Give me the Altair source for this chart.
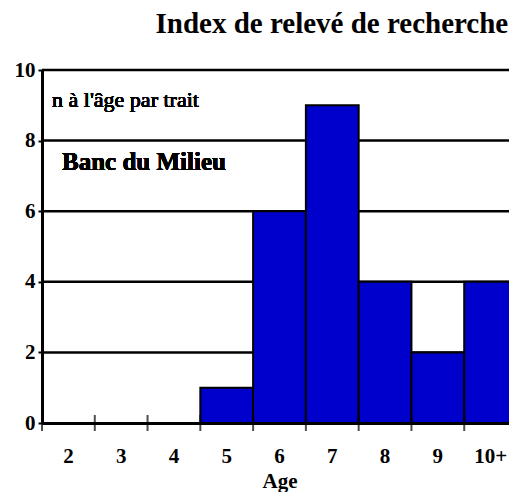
import altair as alt
import pandas as pd

ages = ["2", "3", "4", "5", "6", "7", "8", "9", "10+"]
counts = [0, 0, 0, 1, 6, 9, 4, 2, 4]
grid_values = [2, 4, 6, 8, 10]
y_ticks = list(range(0, 11))
title_text = "Index de relevé de recherche"
note_text = "n à l'âge par trait"
note_y = 9.15
area_text = "Banc du Milieu"
area_y = 7.4

FONT = "Liberation Serif"

df = pd.DataFrame({"age": ages, "n": counts})
grid_df = pd.DataFrame({"v": grid_values})

x_enc = alt.X(
    "age:N", sort=ages, title="Age",
    scale=alt.Scale(paddingInner=0, paddingOuter=0),
    axis=alt.Axis(
        labelAngle=0, labelFont=FONT, labelFontSize=21, labelFontWeight="bold",
        labelColor="black", labelPadding=22, labelBaseline="top",
        ticks=False, domainColor="black", domainWidth=3,
        titleFont=FONT, titleFontSize=21, titleFontWeight="bold",
        titleColor="black", titlePadding=4, grid=False, zindex=1,
    ),
)

y_scale = alt.Scale(domain=[0, 10], nice=False, zero=True)
y_axis = alt.Axis(
    values=y_ticks, labelExpr="datum.value % 2 == 0 ? datum.label : ''",
    labelFont=FONT, labelFontSize=21, labelFontWeight="bold", labelColor="black",
    labelPadding=3, tickSize=4, tickWidth=2, tickColor="black",
    domainColor="black", domainWidth=3, grid=False, zindex=1,
)

grid = alt.Chart(grid_df).mark_rule(color="black", strokeWidth=2.5).encode(
    y=alt.Y("v:Q", scale=y_scale, axis=y_axis, title=None)
)

bars = alt.Chart(df).mark_bar(
    color="#0000CC", stroke="black", strokeWidth=2
).encode(
    x=x_enc,
    y=alt.Y("n:Q", scale=y_scale, axis=y_axis, title=None),
)

xticks = alt.Chart(df).mark_tick(
    orient="vertical", size=16, thickness=2, color="black"
).encode(
    x=alt.X("age:N", sort=ages, bandPosition=0),
    y=alt.datum(0),
)

note = alt.Chart(df).mark_text(
    text=note_text, align="left", baseline="middle", font=FONT,
    fontSize=22, fontWeight="normal", color="black"
).encode(x=alt.value(10), y=alt.datum(note_y))

area = alt.Chart(df).mark_text(
    text=area_text, align="left", baseline="middle", font=FONT,
    fontSize=25, fontWeight="bold", color="black"
).encode(x=alt.value(20), y=alt.datum(area_y))

chart = alt.layer(grid, bars, xticks, note, area).properties(
    width=475, height=353,
    autosize=alt.AutoSizeParams(type="none"),
    padding={"left": 34, "top": 62, "right": -8, "bottom": 69},
    title=alt.TitleParams(
        title_text, anchor="end", font=FONT, fontSize=29, fontWeight="bold",
        color="black", dx=-10, offset=20,
    ),
).configure_view(stroke=None)

chart.save("out.html", embed_options={"renderer": "svg", "actions": False})
